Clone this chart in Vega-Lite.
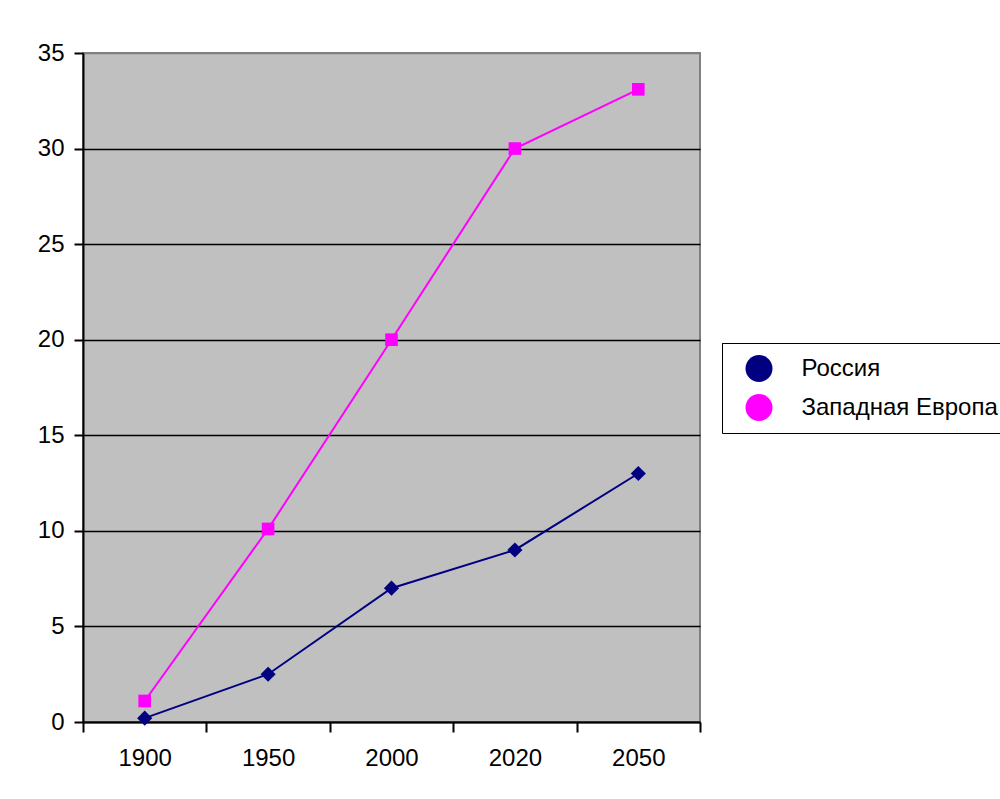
{
  "$schema": "https://vega.github.io/schema/vega-lite/v6.json",
  "width": 617,
  "height": 669,
  "padding": {"left": 83, "top": 53, "right": 300, "bottom": 77},
  "autosize": {"type": "none"},
  "background": "white",
  "view": {"fill": "#C0C0C0", "stroke": "#808080", "strokeWidth": 2},
  "config": {
    "font": "Liberation Sans"
  },
  "resolve": {"scale": {"color": "independent"}},
  "data": {
    "values": [
      {"year": "1900", "series": "Россия", "value": 0.2},
      {"year": "1950", "series": "Россия", "value": 2.5},
      {"year": "2000", "series": "Россия", "value": 7},
      {"year": "2020", "series": "Россия", "value": 9},
      {"year": "2050", "series": "Россия", "value": 13},
      {"year": "1900", "series": "Западная Европа", "value": 1.1},
      {"year": "1950", "series": "Западная Европа", "value": 10.1},
      {"year": "2000", "series": "Западная Европа", "value": 20},
      {"year": "2020", "series": "Западная Европа", "value": 30},
      {"year": "2050", "series": "Западная Европа", "value": 33.1}
    ]
  },
  "encoding": {
    "x": {
      "field": "year", "type": "ordinal", "bandPosition": 0.5,
      "scale": {"type": "band", "paddingInner": 0, "paddingOuter": 0},
      "axis": {"labelAngle": 0, "tickBand": "extent", "tickSize": 10, "labelPadding": 14, "grid": false, "title": null,
        "labelFont": "Liberation Sans", "labelFontSize": 24, "labelColor": "black", "domainColor": "black", "domainWidth": 2, "tickColor": "black", "tickWidth": 2}
    },
    "y": {
      "field": "value", "type": "quantitative",
      "scale": {"domain": [0, 35], "nice": false, "zero": true},
      "axis": {"values": [0, 5, 10, 15, 20, 25, 30, 35], "tickSize": 9, "labelPadding": 10, "grid": true,
        "gridColor": {"condition": {"test": "datum.value === 35", "value": "#808080"}, "value": "black"},
        "gridWidth": 1.5, "title": null,
        "labelFont": "Liberation Sans", "labelFontSize": 24, "labelColor": "black", "domainColor": "black", "domainWidth": 2, "tickColor": "black", "tickWidth": 2}
    }
  },
  "layer": [
    {
      "mark": {"type": "line", "strokeWidth": 2},
      "encoding": {
        "color": {
          "field": "series", "type": "nominal",
          "scale": {"domain": ["Россия", "Западная Европа"], "range": ["#000080", "#FF00FF"]},
          "legend": null
        }
      }
    },
    {
      "transform": [{"filter": "datum.series === 'Россия'"}],
      "mark": {"type": "point", "shape": "diamond", "filled": true, "opacity": 1, "size": 230, "color": "#000080"}
    },
    {
      "transform": [{"filter": "datum.series === 'Западная Европа'"}],
      "mark": {"type": "point", "shape": "square", "filled": true, "opacity": 1, "size": 160, "color": "#FF00FF"}
    },
    {
      "mark": {"type": "point", "filled": true, "opacity": 0, "size": 0},
      "encoding": {
        "shape": {
          "field": "series", "type": "nominal", "sort": ["Россия", "Западная Европа"],
          "scale": {"range": ["M-2,-0.075H2V0.075H-2ZM0,-0.4L0.4,0L0,0.4L-0.4,0Z", "M-2,-0.075H2V0.075H-2ZM-0.44,-0.44H0.44V0.44H-0.44Z"]},
          "legend": {
            "title": null, "orient": "none", "legendX": 639, "legendY": 290,
            "padding": 12, "strokeColor": "black", "fillColor": "white",
            "labelFont": "Liberation Sans", "labelFontSize": 24, "labelColor": "black", "labelOffset": 29,
            "symbolSize": 729, "symbolOffset": 11.5, "symbolStrokeWidth": 0, "symbolOpacity": 1, "rowPadding": 12, "labelLimit": 400
          }
        },
        "color": {
          "field": "series", "type": "nominal", "sort": ["Россия", "Западная Европа"],
          "scale": {"range": ["#000080", "#FF00FF"]},
          "legend": {
            "title": null, "orient": "none", "legendX": 639, "legendY": 290,
            "padding": 12, "strokeColor": "black", "fillColor": "white",
            "labelFont": "Liberation Sans", "labelFontSize": 24, "labelColor": "black", "labelOffset": 29,
            "symbolSize": 729, "symbolOffset": 11.5, "symbolStrokeWidth": 0, "symbolOpacity": 1, "rowPadding": 12, "labelLimit": 400
          }
        }
      }
    }
  ]
}
